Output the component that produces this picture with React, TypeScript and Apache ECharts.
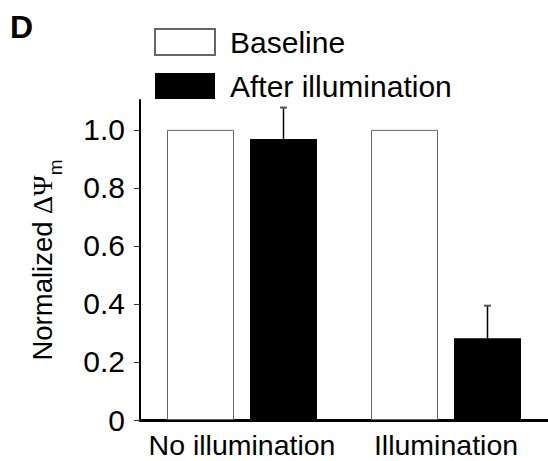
import React, { useEffect, useRef } from "react";
import * as echarts from "echarts";

const categories = ["No illumination", "Illumination"];
const seriesNames = ["Baseline", "After illumination"];
const baselineValues = [1.0, 1.0];
const afterValues = [0.969, 0.282];
const afterErrors = [0.108, 0.112];
const yTicks = [0, 0.2, 0.4, 0.6, 0.8, 1.0];

const FONT = "'Liberation Sans', Arial, Helvetica, sans-serif";
const SERIF = "'Liberation Serif', 'DejaVu Serif', serif";

export default function App() {
  const ref = useRef<HTMLDivElement>(null);
  useEffect(() => {
    const chart = echarts.init(ref.current!, null, { renderer: "svg" });
    const barWidth = 67;
    const barGapPx = 16;
    const offset = (barWidth + barGapPx) / 2;
    const barGap = ((barGapPx / barWidth) * 100).toFixed(2) + "%";
    chart.setOption({
      animation: false,
      backgroundColor: "#fff",
      graphic: [
        {
          type: "text",
          left: 10,
          top: 11,
          style: { text: "D", font: `bold 32px ${FONT}`, fill: "#000" },
        },
      ],
      legend: {
        orient: "vertical",
        left: 154,
        top: 27,
        padding: 0,
        itemWidth: 60,
        itemHeight: 26,
        itemGap: 14,
        icon: "rect",
        selectedMode: false,
        data: seriesNames,
        textStyle: {
          fontSize: 30,
          fontFamily: FONT,
          color: "#000",
          padding: [0, 0, 0, 10],
        },
      },
      grid: { left: 140, right: 0, top: 100, bottom: 41 },
      xAxis: {
        type: "category",
        data: categories,
        axisLine: { lineStyle: { color: "#000", width: 3 } },
        axisTick: { show: false },
        axisLabel: { interval: 0, fontSize: 28.5, fontFamily: FONT, color: "#000", margin: 10 },
      },
      yAxis: {
        type: "value",
        min: 0,
        max: 1.103,
        interval: 0.2,
        splitLine: { show: false },
        axisLine: { show: true, lineStyle: { color: "#000", width: 2 } },
        axisTick: {
          show: true,
          length: 6,
          customValues: yTicks,
          lineStyle: { color: "#333", width: 1 },
        },
        axisLabel: {
          customValues: yTicks,
          fontSize: 30,
          fontFamily: FONT,
          color: "#000",
          margin: 15,
          formatter: (v: number) => (v === 0 ? "0" : v.toFixed(1)),
        },
        name: "{a|Normalized }{g|ΔΨ}{s|m}",
        nameLocation: "middle",
        nameGap: 82,
        nameTextStyle: {
          rich: {
            a: { fontSize: 27.5, fontFamily: FONT, color: "#000", lineHeight: 30, verticalAlign: "top" },
            g: { fontSize: 28, fontFamily: SERIF, color: "#000", lineHeight: 30, verticalAlign: "top" },
            s: {
              fontSize: 19,
              fontFamily: FONT,
              color: "#000",
              lineHeight: 20,
              padding: [18, 0, 0, 0],
              verticalAlign: "top",
            },
          },
        },
      },
      series: [
        {
          type: "bar",
          name: seriesNames[0],
          data: baselineValues,
          barWidth,
          barGap,
          itemStyle: { color: "#fff", borderColor: "#666", borderWidth: 1 },
        },
        {
          type: "bar",
          name: seriesNames[1],
          data: afterValues,
          barWidth,
          barGap,
          itemStyle: { color: "#000" },
        },
        {
          type: "custom",
          name: "error",
          silent: true,
          z: 3,
          data: afterValues.map((v, i) => [i, v, v + afterErrors[i]]),
          renderItem: (params: any, api: any) => {
            const base = api.coord([api.value(0), api.value(1)]);
            const top = api.coord([api.value(0), api.value(2)]);
            const x = base[0] + offset;
            return {
              type: "group",
              children: [
                {
                  type: "line",
                  shape: { x1: x, y1: base[1], x2: x, y2: top[1] },
                  style: { stroke: "#000", lineWidth: 1.5 },
                },
                {
                  type: "line",
                  shape: { x1: x - 3.5, y1: top[1], x2: x + 3.5, y2: top[1] },
                  style: { stroke: "#555", lineWidth: 2 },
                },
              ],
            };
          },
        },
      ],
    });
    return () => chart.dispose();
  }, []);
  return (
    <div
      ref={ref}
      style={{ position: "fixed", left: 0, top: 0, width: 548, height: 461 }}
    />
  );
}
